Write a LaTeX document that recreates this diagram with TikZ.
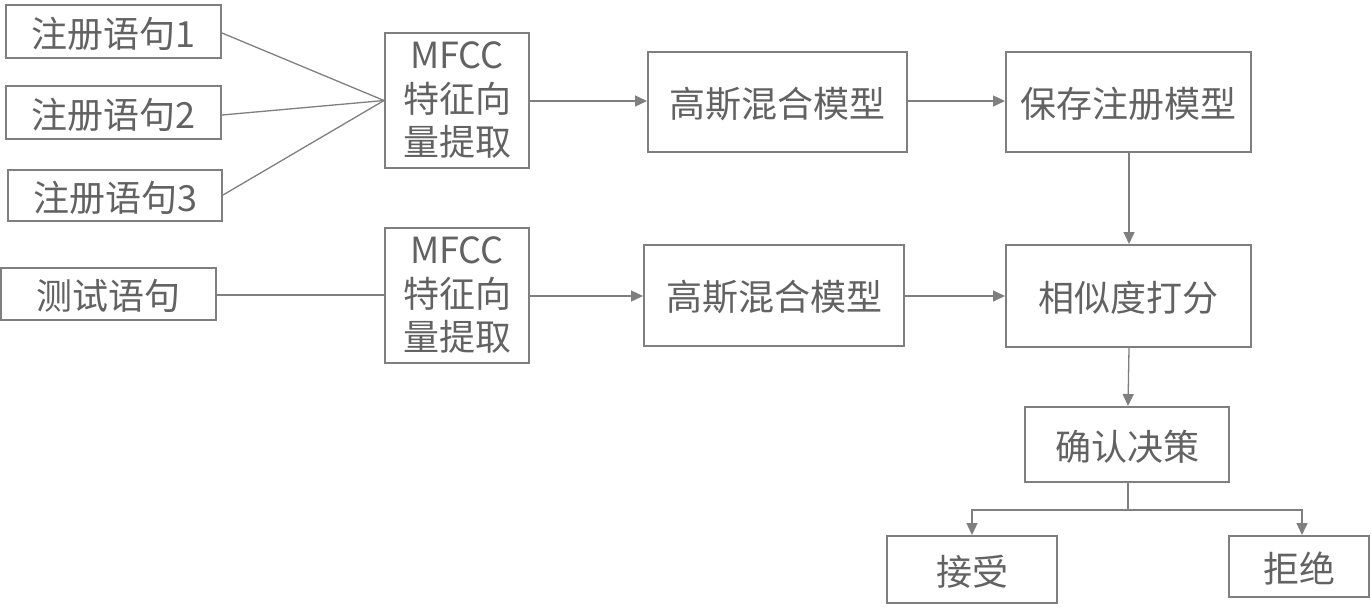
\documentclass[tikz,border=0pt]{standalone}
\usepackage{fontspec}
\setmainfont{Noto Sans CJK SC}
\usetikzlibrary{arrows.meta}
\definecolor{linegray}{HTML}{7F7F7F}
\definecolor{textgray}{HTML}{626262}
\newcommand\lowrtxt[2]{\raisebox{-#1}[\height][\depth]{#2}}
\newcommand\mfcctxt{\lowrtxt{3pt}{\begin{tabular}{@{}c@{}}MFCC\\特征向\\量提取\end{tabular}}}
\tikzset{
  box/.style={draw=linegray, line width=2pt, inner sep=0pt, text=textgray,
    font=\fontsize{36}{43}\selectfont, align=center},
  conn/.style={draw=linegray, line width=1.3pt},
  arr/.style={conn, -{Triangle[length=12pt,width=11pt]}},
}
\begin{document}
\begin{tikzpicture}[x=1pt,y=-1pt]
\useasboundingbox (0,0) rectangle (1372,614);
\fill[white] (0,0) rectangle (1372,614);
% nodes (center, width, height)
\node[box, minimum width=215, minimum height=53] (r1) at (113.5,31.5) {\lowrtxt{2pt}{注册语句1}};
\node[box, minimum width=215, minimum height=53] (r2) at (113.5,112.5) {\lowrtxt{2pt}{注册语句2}};
\node[box, minimum width=214, minimum height=51] (r3) at (115,195.5) {\lowrtxt{2pt}{注册语句3}};
\node[box, minimum width=215, minimum height=52] (t) at (108.5,294) {\lowrtxt{2pt}{测试语句}};
\node[box, minimum width=144, minimum height=135] (m1) at (457,100.5) {\mfcctxt};
\node[box, minimum width=144, minimum height=135] (m2) at (457,295.5) {\mfcctxt};
\node[box, minimum width=259, minimum height=100] (g1) at (777.5,102) {\lowrtxt{2pt}{高斯混合模型}};
\node[box, minimum width=260, minimum height=101] (g2) at (774,295.5) {\lowrtxt{2pt}{高斯混合模型}};
\node[box, minimum width=245, minimum height=100] (s) at (1128.5,102) {\lowrtxt{2pt}{保存注册模型}};
\node[box, minimum width=245, minimum height=102] (x) at (1128.5,296) {\lowrtxt{2pt}{相似度打分}};
\node[box, minimum width=204, minimum height=75] (d) at (1127,444.5) {\lowrtxt{2pt}{确认决策}};
\node[box, minimum width=170, minimum height=67] (a) at (972,569.5) {\lowrtxt{2pt}{接受}};
\node[box, minimum width=140, minimum height=61] (rj) at (1299,566.5) {\lowrtxt{2pt}{拒绝}};
% connectors
\coordinate (apex) at (m1.west);
\draw[conn] (r1.east |- 0,33) -- (apex);
\draw[conn] (r2.east |- 0,115) -- (apex);
\draw[conn] (r3.east |- 0,195) -- (apex);
\draw[conn] (t.east |- 0,295) -- (m2.west |- 0,295);
\draw[arr] (m1.east |- 0,101) -- (g1.west |- 0,101);
\draw[arr] (m2.east |- 0,296) -- (g2.west |- 0,296);
\draw[arr] (g1.east |- 0,101) -- (s.west |- 0,101);
\draw[arr] (g2.east |- 0,296) -- (x.west |- 0,296);
\draw[arr] (s.south -| 1129,0) -- (x.north -| 1129,0);
\draw[arr] (x.south -| 1129,0) -- (d.north -| 1128,0);
\coordinate (split) at (1128,510);
\draw[conn] (d.south -| 1128,0) -- (split);
\draw[arr] (split) -| (a.north -| 972,0);
\draw[arr] (split) -| (rj.north -| 1302,0);
\end{tikzpicture}
\end{document}
